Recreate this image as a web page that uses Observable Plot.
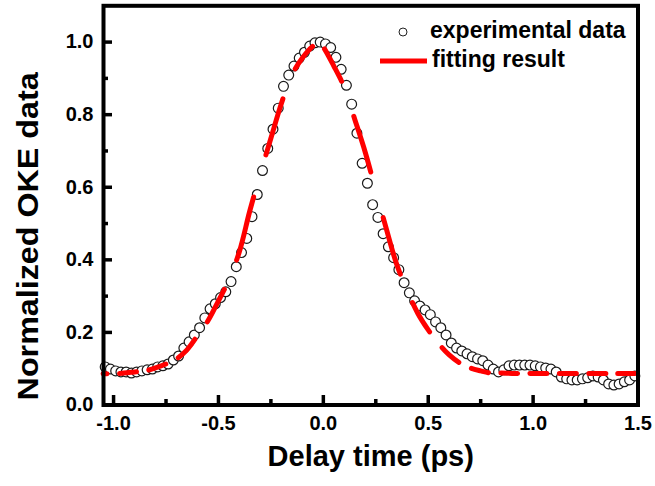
<!DOCTYPE html>
<html>
<head>
<meta charset="utf-8">
<script src="https://cdn.jsdelivr.net/npm/d3@7"></script>
<script src="https://cdn.jsdelivr.net/npm/@observablehq/plot@0.6"></script>
<style>
  html, body { margin: 0; padding: 0; background: #fff; }
  #wrap { position: relative; width: 655px; height: 486px; font-family: "Liberation Sans", Arial, sans-serif; }
  #legend { position: absolute; left: 0; top: 0; pointer-events: none; }
</style>
</head>
<body>
<div id="wrap"></div>
<script>
// Experimental data (delay time in ps, normalized OKE signal)
const expX = [-1.04, -1.015, -0.99, -0.965, -0.94, -0.915, -0.89, -0.865, -0.84, -0.815,
  -0.79, -0.765, -0.74, -0.715, -0.69, -0.665, -0.64, -0.615, -0.59, -0.565,
  -0.54, -0.515, -0.49, -0.465, -0.44, -0.415, -0.39, -0.365, -0.34, -0.315,
  -0.29, -0.265, -0.24, -0.215, -0.19, -0.165, -0.14, -0.115, -0.09, -0.065,
  -0.04, -0.015, 0.01, 0.035, 0.06, 0.085, 0.11, 0.135, 0.16, 0.185,
  0.21, 0.235, 0.26, 0.285, 0.31, 0.335, 0.36, 0.385, 0.41, 0.435,
  0.46, 0.485, 0.51, 0.535, 0.56, 0.585, 0.61, 0.635, 0.66, 0.685,
  0.71, 0.735, 0.76, 0.785, 0.81, 0.835, 0.86, 0.885, 0.91, 0.935,
  0.96, 0.985, 1.01, 1.035, 1.06, 1.085, 1.11, 1.135, 1.16, 1.185,
  1.21, 1.235, 1.26, 1.285, 1.31, 1.335, 1.36, 1.385, 1.41, 1.435,
  1.46, 1.485];
const expY = [0.105, 0.099, 0.094, 0.091, 0.091, 0.088, 0.091, 0.094, 0.097, 0.099,
  0.105, 0.108, 0.113, 0.124, 0.135, 0.157, 0.174, 0.193, 0.213, 0.240,
  0.265, 0.279, 0.296, 0.312, 0.340, 0.381, 0.420, 0.459, 0.519, 0.580,
  0.646, 0.707, 0.760, 0.818, 0.878, 0.909, 0.934, 0.956, 0.972, 0.989,
  0.998, 1.000, 0.995, 0.985, 0.958, 0.925, 0.881, 0.829, 0.749, 0.666,
  0.611, 0.552, 0.517, 0.472, 0.436, 0.406, 0.373, 0.337, 0.309, 0.287,
  0.273, 0.262, 0.249, 0.229, 0.213, 0.193, 0.171, 0.157, 0.149, 0.141,
  0.133, 0.127, 0.122, 0.110, 0.099, 0.091, 0.097, 0.108, 0.110, 0.110,
  0.110, 0.110, 0.108, 0.105, 0.102, 0.099, 0.091, 0.077, 0.072, 0.069,
  0.069, 0.072, 0.075, 0.080, 0.077, 0.069, 0.058, 0.055, 0.058, 0.064,
  0.069, 0.080];

// Fitting result
const fitX = [-1.05, -1.0, -0.95, -0.9, -0.85, -0.8, -0.75, -0.7, -0.65, -0.6,
  -0.55, -0.5, -0.45, -0.4, -0.35, -0.3, -0.25, -0.2, -0.15, -0.1,
  -0.05, -0.02, 0.0, 0.05, 0.1, 0.15, 0.2, 0.25, 0.3, 0.35,
  0.4, 0.45, 0.5, 0.55, 0.6, 0.65, 0.7, 0.75, 0.8, 0.85,
  0.9, 1.0, 1.1, 1.2, 1.3, 1.4, 1.5];
const fitY = [0.086, 0.086, 0.088, 0.091, 0.094, 0.102, 0.113, 0.127, 0.152, 0.191,
  0.232, 0.287, 0.345, 0.423, 0.536, 0.638, 0.735, 0.831, 0.909, 0.956,
  0.989, 1.000, 0.986, 0.934, 0.875, 0.787, 0.696, 0.591, 0.486, 0.387,
  0.315, 0.253, 0.207, 0.169, 0.138, 0.116, 0.102, 0.094, 0.088, 0.088,
  0.087, 0.087, 0.087, 0.087, 0.087, 0.087, 0.087];

// Tick values and labels
const xMajor = [-1.0, -0.5, 0.0, 0.5, 1.0, 1.5];
const xMinor = [-0.75, -0.25, 0.25, 0.75, 1.25];
const yMajor = [0.0, 0.2, 0.4, 0.6, 0.8, 1.0];
const yMinor = [0.1, 0.3, 0.5, 0.7, 0.9];
const xLabel = "Delay time (ps)";
const yLabel = "Normalized OKE data";
const legendLabels = ["experimental data", "fitting result"];

const expData = expX.map((x, i) => ({x, y: expY[i]}));
const fitData = fitX.map((x, i) => ({x, y: fitY[i]}));

const W = 655, H = 486;
const mL = 103, mR = 17.5, mT = 5.3, mB = 81.5;
const pw = W - mL - mR, ph = H - mT - mB;
const fmt = d => d.toFixed(1);

const chart = Plot.plot({
  width: W, height: H,
  marginLeft: mL, marginRight: mR, marginTop: mT, marginBottom: mB,
  x: {domain: [-1.048, 1.5]},
  y: {domain: [0, 1.1]},
  style: {fontFamily: "'Liberation Sans', Arial, sans-serif", background: "#fff", color: "#000", overflow: "visible"},
  marks: [
    Plot.axisX({ticks: xMajor, tickSize: 0, tickPadding: 10.5, tickFormat: fmt, fontSize: 20, fontWeight: "bold", label: null}),
    Plot.axisY({ticks: yMajor, tickSize: 0, tickPadding: 10, tickFormat: fmt, fontSize: 20, fontWeight: "bold", label: null}),
    Plot.tickX(xMajor, {x: d => d, insetTop: ph - 9.5, stroke: "#000", strokeWidth: 3.5}),
    Plot.tickX(xMinor, {x: d => d, insetTop: ph - 5.5, stroke: "#000", strokeWidth: 3.5}),
    Plot.tickY(yMajor, {y: d => d, insetRight: pw - 9, stroke: "#000", strokeWidth: 3.5}),
    Plot.tickY(yMinor, {y: d => d, insetRight: pw - 5, stroke: "#000", strokeWidth: 3.5}),
    Plot.dot(expData, {x: "x", y: "y", r: 4.9, fill: "#fff", stroke: "#1a1a1a", strokeWidth: 1.2}),
    Plot.line(fitData, {x: "x", y: "y", stroke: "#ff0000", strokeWidth: 5, curve: "catmull-rom"}),
    Plot.frame({stroke: "#000", strokeWidth: 4}),
    Plot.text([xLabel], {frameAnchor: "bottom", dy: 61, fontSize: 29, fontWeight: "bold", fill: "#000"}),
    Plot.text([yLabel], {frameAnchor: "left", rotate: -90, dx: -75.6, dy: 31, fontSize: 30, fontWeight: "bold", fill: "#000"})
  ]
});

const wrap = document.getElementById("wrap");
wrap.appendChild(chart);

// Stretch the y label to the length seen in the reference (start-anchored so it stays centred)
const yText = Array.from(chart.querySelectorAll("text")).find(t => t.textContent === yLabel);
if (yText) {
  yText.setAttribute("text-anchor", "start");
  yText.setAttribute("x", -164);
  yText.setAttribute("textLength", 328);
  yText.setAttribute("lengthAdjust", "spacingAndGlyphs");
}

// Dash pattern: dashes repeat at a fixed horizontal period, as in the reference
const path = chart.querySelector('g[aria-label="line"] path');
if (path) {
  const L = path.getTotalLength();
  const P = 29.3, D = 17, x0 = 89.5;
  const on = x => ((((x - x0) % P) + P) % P) < D;
  const first = on(path.getPointAtLength(0).x);
  let cur = first, start = 0;
  const runs = [];
  for (let s = 0.5; s <= L; s += 0.5) {
    const st = on(path.getPointAtLength(s).x);
    if (st !== cur) { runs.push(+(s - start).toFixed(2)); start = s; cur = st; }
  }
  runs.push(+(L - start).toFixed(2) + 50);
  if (!first) runs.unshift(0);
  if (runs.length % 2) runs.push(1000);
  path.setAttribute("stroke-dasharray", runs.join(","));
}

// Legend (overlay)
const ns = "http://www.w3.org/2000/svg";
const leg = document.createElementNS(ns, "svg");
leg.setAttribute("id", "legend");
leg.setAttribute("width", W);
leg.setAttribute("height", 90);
leg.innerHTML = `
  <circle cx="403" cy="32" r="4" fill="#fff" stroke="#222" stroke-width="1"></circle>
  <text x="430" y="37.5" font-size="23" font-weight="bold" font-family="'Liberation Sans', Arial, sans-serif" fill="#000">${legendLabels[0]}</text>
  <line x1="380" x2="427" y1="61" y2="61" stroke="#ff0000" stroke-width="5"></line>
  <text x="432" y="67" font-size="23" font-weight="bold" font-family="'Liberation Sans', Arial, sans-serif" fill="#000">${legendLabels[1]}</text>`;
wrap.appendChild(leg);
</script>
</body>
</html>
